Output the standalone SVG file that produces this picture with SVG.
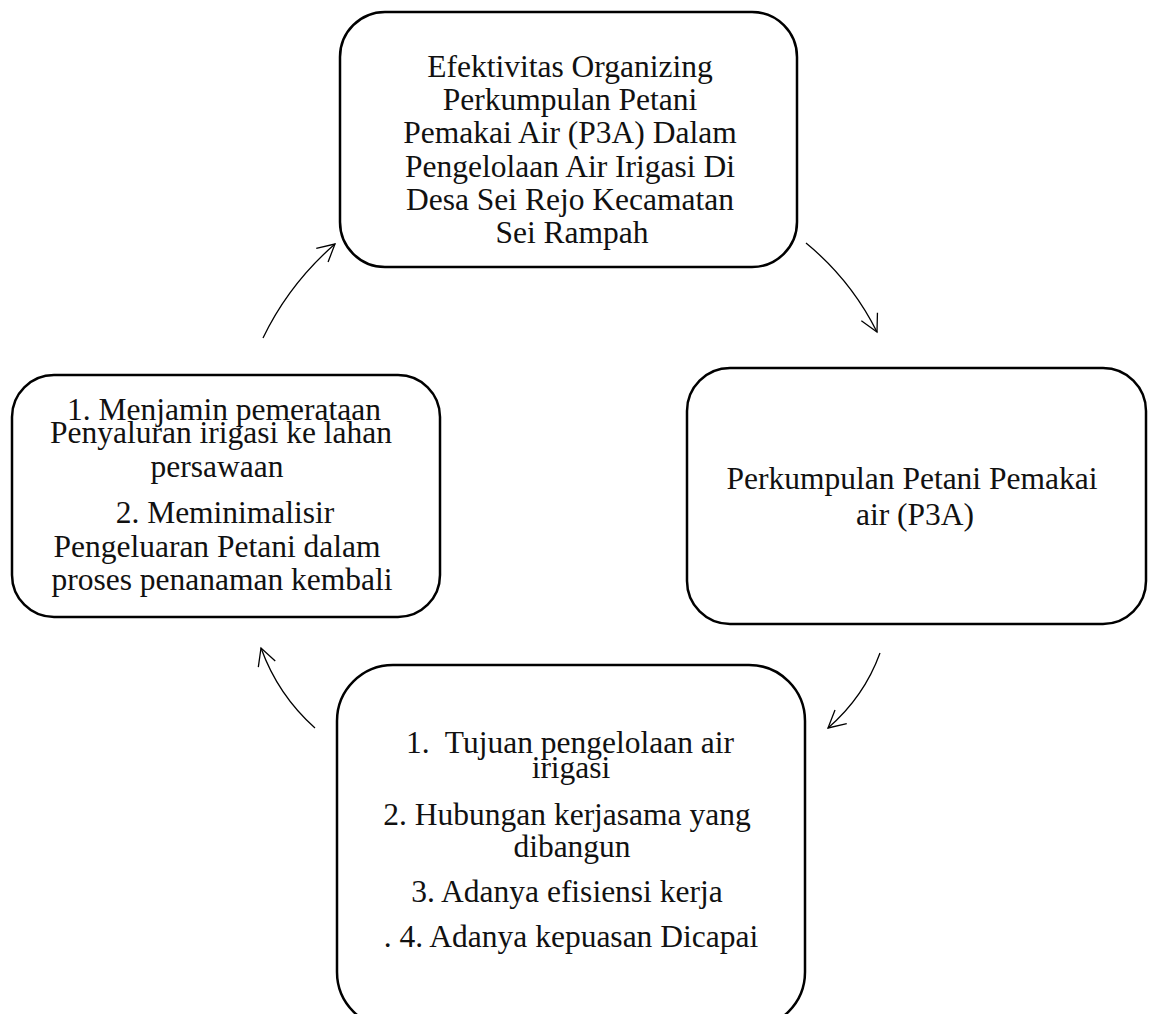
<svg xmlns="http://www.w3.org/2000/svg" width="1149" height="1014" viewBox="0 0 1149 1014">
<style>
.box{fill:#fff;stroke:#000;stroke-width:2.5}
.t{font-family:"Liberation Serif","Times New Roman",serif;font-size:31.5px;fill:#111;text-anchor:middle;white-space:pre}
.c{fill:none;stroke:#000;stroke-width:1.3}
</style>
<defs>
<marker id="ah" markerUnits="userSpaceOnUse" markerWidth="24" markerHeight="24" viewBox="-20 -12 24 24" refX="0" refY="0" orient="auto">
<path d="M-17,-9 L0,0 L-17,9" fill="none" stroke="#000" stroke-width="1.3"/>
</marker>
</defs>
<rect width="1149" height="1014" fill="#fff"/>
<g id="connectors">
<path class="c" d="M263,338 Q289,284 335,244" marker-end="url(#ah)"/>
<path class="c" d="M806,243 Q851,280 877,332" marker-end="url(#ah)"/>
<path class="c" d="M880,653 Q864,697 828,728" marker-end="url(#ah)"/>
<path class="c" d="M315,728 Q278,695 261,648" marker-end="url(#ah)"/>
</g>
<g id="node-top">
<rect class="box" x="340" y="12" width="457" height="255" rx="45" ry="45"/>
<text class="t" x="570" y="77">Efektivitas Organizing</text>
<text class="t" x="570" y="110">Perkumpulan Petani</text>
<text class="t" x="570" y="143">Pemakai Air (P3A) Dalam</text>
<text class="t" x="570" y="177">Pengelolaan Air Irigasi Di</text>
<text class="t" x="570" y="210">Desa Sei Rejo Kecamatan</text>
<text class="t" x="572" y="243">Sei Rampah</text>
</g>
<g id="node-right">
<rect class="box" x="687" y="368" width="459" height="256" rx="43" ry="43"/>
<text class="t" x="912" y="489">Perkumpulan Petani Pemakai</text>
<text class="t" x="915" y="525">air (P3A)</text>
</g>
<g id="node-bottom">
<rect class="box" x="337" y="665" width="468" height="363" rx="56" ry="56"/>
<text class="t" x="570" y="753">1.  Tujuan pengelolaan air</text>
<text class="t" x="571" y="778">irigasi</text>
<text class="t" x="567" y="825">2. Hubungan kerjasama yang</text>
<text class="t" x="572" y="857">dibangun</text>
<text class="t" x="567" y="902">3. Adanya efisiensi kerja</text>
<text class="t" x="571" y="947">. 4. Adanya kepuasan Dicapai</text>
</g>
<g id="node-left">
<rect class="box" x="12" y="375" width="428" height="242" rx="42" ry="42"/>
<text class="t" x="224" y="420">1. Menjamin pemerataan</text>
<text class="t" x="221" y="443">Penyaluran irigasi ke lahan</text>
<text class="t" x="217" y="477">persawaan</text>
<text class="t" x="225" y="523">2. Meminimalisir</text>
<text class="t" x="217" y="557">Pengeluaran Petani dalam</text>
<text class="t" x="222" y="590">proses penanaman kembali</text>
</g>
</svg>
